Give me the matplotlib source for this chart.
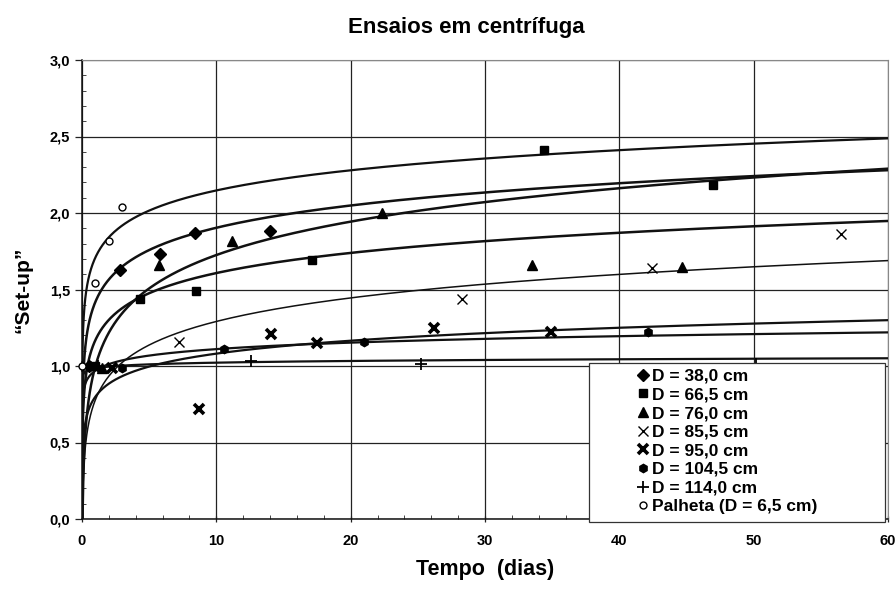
import matplotlib.pyplot as plt
import numpy as np
from matplotlib.patches import Rectangle
from matplotlib.ticker import MultipleLocator, FuncFormatter

plt.rcParams['font.family'] = ['Liberation Sans', 'DejaVu Sans']
plt.rcParams['font.weight'] = 'bold'

# data
labels = ['D = 38,0 cm', 'D = 66,5 cm', 'D = 76,0 cm', 'D = 85,5 cm',
          'D = 95,0 cm', 'D = 104,5 cm', 'D = 114,0 cm', 'Palheta (D = 6,5 cm)']

t_380 = [0.5, 2.8, 5.8, 8.4, 14.0]
y_380 = [1.00, 1.63, 1.73, 1.87, 1.88]
t_665 = [1.0, 4.3, 8.5, 17.1, 34.4, 47.0]
y_665 = [1.00, 1.44, 1.49, 1.69, 2.41, 2.18]
t_760 = [1.5, 5.7, 11.2, 22.3, 33.5, 44.7]
y_760 = [0.99, 1.66, 1.82, 2.00, 1.66, 1.65]
t_855 = [0.3, 7.2, 28.3, 42.4, 56.5]
y_855 = [1.00, 1.16, 1.44, 1.64, 1.86]
t_950 = [2.2, 8.7, 14.1, 17.5, 26.2, 34.9]
y_950 = [0.99, 0.72, 1.21, 1.15, 1.25, 1.22]
t_1045 = [3.0, 10.6, 21.0, 42.1]
y_1045 = [0.99, 1.11, 1.16, 1.22]
t_1140 = [1.2, 12.6, 25.2, 50.2]
y_1140 = [1.00, 1.03, 1.01, 1.01]
t_palheta = [0.0, 0.97, 2.0, 3.0]
y_palheta = [1.00, 1.545, 1.82, 2.04]

# logarithmic trend lines y = a + b*ln(t), coefficients
trend_a = [1.42, 1.17, 1.00, 0.78, 0.80, 0.97, 0.985, 1.71]
trend_b = [0.21, 0.19, 0.315, 0.222, 0.122, 0.061, 0.016, 0.19]

series_t = [t_380, t_665, t_760, t_855, t_950, t_1045, t_1140, t_palheta]
series_y = [y_380, y_665, y_760, y_855, y_950, y_1045, y_1140, y_palheta]

markers = ['D', 's', '^', 'x', 'x', 'h', '+', 'o']
msizes = [6, 5.5, 7, 7, 7, 6, 8, 5]
mews = [1, 1, 1, 1, 2.6, 1, 1.3, 1]
mfaces = ['k', 'k', 'k', 'k', 'k', 'k', 'k', 'white']
lws = [1.8, 1.8, 1.8, 1.1, 1.6, 1.6, 1.6, 1.6]

fig = plt.figure(figsize=(8.96, 5.92), dpi=100)
ax = fig.add_axes([82 / 896, 73 / 592, 806 / 896, 459 / 592])

tt = np.logspace(-4, np.log10(60), 600)
for a, b, lw in zip(trend_a, trend_b, lws):
    ax.plot(tt, a + b * np.log(tt), color='#111111', lw=lw, zorder=3, solid_capstyle='round')

handles = []
for t, y, m, ms, mew, fc, lab in zip(series_t, series_y, markers, msizes, mews, mfaces, labels):
    h, = ax.plot(t, y, ls='none', marker=m, ms=ms, mew=mew, mfc=fc, mec='k',
                 color='k', label=lab, zorder=4, clip_on=False)
    handles.append(h)

ax.set_xlim(0, 60)
ax.set_ylim(0, 3.0)
ax.xaxis.set_major_locator(MultipleLocator(10))
ax.xaxis.set_minor_locator(MultipleLocator(2))
ax.yaxis.set_major_locator(MultipleLocator(0.5))
ax.yaxis.set_minor_locator(MultipleLocator(0.1))
ax.yaxis.set_major_formatter(FuncFormatter(lambda v, p: ('%.1f' % v).replace('.', ',')))
ax.grid(True, which='major', color='#222222', lw=0.9, zorder=1)
ax.tick_params(axis='both', which='major', labelsize=10.5, length=5, width=0.9, color='#222222')
ax.tick_params(axis='y', which='major', direction='out')
ax.tick_params(axis='x', which='major', direction='inout', pad=8)
ax.tick_params(axis='both', which='minor', direction='in', length=3, width=0.7, color='#444444')
for s in ['left', 'bottom']:
    ax.spines[s].set_color('#111111')
    ax.spines[s].set_linewidth(1.1)
for s in ['top', 'right']:
    ax.spines[s].set_color('#888888')
    ax.spines[s].set_linewidth(0.8)
for lab in ax.get_xticklabels() + ax.get_yticklabels():
    lab.set_fontweight('bold')

ax.set_xlabel('Tempo  (dias)', fontsize=15.5, fontweight='bold', labelpad=8)
ax.set_ylabel('“Set-up”', fontsize=15, fontweight='bold', labelpad=12)
fig.text(466 / 896, 1 - 27 / 592, 'Ensaios em centrífuga', ha='center', va='center',
         fontsize=16, fontweight='bold')

# legend box
box = Rectangle((0.629, -0.006), 0.367, 0.345, transform=ax.transAxes, facecolor='white',
                edgecolor='#333333', lw=0.9, zorder=5, clip_on=False)
ax.add_patch(box)
leg = ax.legend(handles=handles, loc='upper left', bbox_to_anchor=(0.685, 0.335),
                frameon=False, fontsize=12.5, handlelength=0.6, handletextpad=0.25,
                labelspacing=0.2, borderpad=0.2, borderaxespad=0)
leg.set_zorder(6)
for txt in leg.get_texts():
    txt.set_fontweight('bold')

fig.savefig('out.png', dpi=100)
